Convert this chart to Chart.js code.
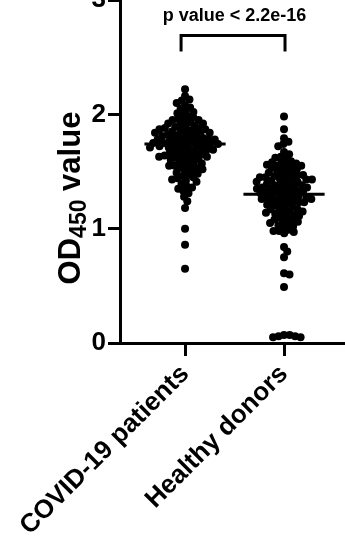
<!DOCTYPE html>
<html>
<head>
<meta charset="utf-8">
<script src="https://cdn.jsdelivr.net/npm/chart.js@4/dist/chart.umd.min.js"></script>
<style>
  html, body { margin: 0; padding: 0; background: #fff; }
  canvas { display: block; }
</style>
</head>
<body>
<canvas id="odChart" width="345" height="538"></canvas>
<script>
// donnees
const categories = ['COVID-19 patients', 'Healthy donors'];
const yTicks = [0, 1, 2, 3];
const covidValues = [
  2.22, 2.16, 2.13, 2.12, 2.10,
  2.08, 2.06, 2.05, 2.03, 2.02, 2.01,
  1.99, 1.98, 1.97, 1.96, 1.95, 1.94, 1.93, 1.92, 1.91, 1.90, 1.95, 1.92,
  1.89, 1.88, 1.88, 1.87, 1.86, 1.86, 1.85, 1.84, 1.84, 1.83, 1.83, 1.82, 1.82, 1.81, 1.81, 1.80, 1.80, 1.85, 1.87, 1.89,
  1.79, 1.79, 1.78, 1.78, 1.77, 1.77, 1.76, 1.76, 1.75, 1.75, 1.74, 1.74, 1.73, 1.73, 1.72, 1.72, 1.71, 1.71, 1.70, 1.70, 1.76, 1.78, 1.74, 1.72,
  1.69, 1.69, 1.68, 1.67, 1.66, 1.66, 1.65, 1.64, 1.63, 1.63, 1.62, 1.61, 1.61, 1.60, 1.68, 1.65, 1.62, 1.64,
  1.59, 1.58, 1.57, 1.56, 1.55, 1.55, 1.54, 1.53, 1.52, 1.51, 1.50, 1.57, 1.53,
  1.49, 1.48, 1.46, 1.45, 1.44, 1.43, 1.42, 1.41, 1.47,
  1.39, 1.37, 1.36, 1.35, 1.33, 1.31,
  1.28, 1.24,
  1.18, 1.00, 0.86, 0.65
];
const healthyValues = [
  1.98, 1.87, 1.79, 1.76, 1.74, 1.72,
  1.67, 1.65, 1.63, 1.62, 1.61,
  1.59, 1.58, 1.57, 1.56, 1.56, 1.55, 1.54, 1.53, 1.53, 1.52, 1.51, 1.50, 1.55, 1.58,
  1.49, 1.49, 1.48, 1.47, 1.47, 1.46, 1.45, 1.45, 1.44, 1.43, 1.43, 1.42, 1.41, 1.41, 1.40, 1.46, 1.44, 1.42,
  1.39, 1.39, 1.38, 1.37, 1.37, 1.36, 1.35, 1.35, 1.34, 1.33, 1.33, 1.32, 1.31, 1.31, 1.30, 1.36, 1.34, 1.32, 1.38,
  1.29, 1.29, 1.28, 1.27, 1.27, 1.26, 1.25, 1.25, 1.24, 1.23, 1.23, 1.22, 1.21, 1.21, 1.20, 1.26, 1.24, 1.28,
  1.19, 1.18, 1.17, 1.17, 1.16, 1.15, 1.14, 1.13, 1.12, 1.11, 1.10, 1.15, 1.13,
  1.09, 1.08, 1.07, 1.06, 1.05, 1.04, 1.03, 1.02, 1.01, 1.06,
  0.99, 0.98, 0.98, 0.97, 0.96,
  0.84, 0.80, 0.75, 0.61, 0.60, 0.49,
  0.07, 0.06, 0.05, 0.06, 0.07, 0.05
];
const groupMeans = [1.74, 1.30];
const pValueLabel = 'p value < 2.2e-16';
const bracketLevels = [2.55, 2.69];

const FONT = "'Liberation Sans', Arial, sans-serif";
const dotRadius = 4;
const swarmGap = 5.6;
const meanHalfWidth = 0.41;

// disposition en essaim (beeswarm) calculée en pixels
function swarm(values, centre, xScale, yScale) {
  const pxPerUnit = xScale.getPixelForValue(1) - xScale.getPixelForValue(0);
  const pts = values.map(v => ({ v: v, py: yScale.getPixelForValue(v), px: 0 }))
    .sort((a, b) => b.v - a.v);
  const placed = [];
  pts.forEach(p => {
    const near = placed.filter(q => Math.abs(q.py - p.py) < swarmGap);
    const cands = [0];
    near.forEach(q => {
      const dx = Math.sqrt(swarmGap * swarmGap - (q.py - p.py) ** 2);
      cands.push(q.px + dx, q.px - dx);
    });
    cands.sort((a, b) => Math.abs(a) - Math.abs(b));
    p.px = cands.find(c => near.every(q => (q.px - c) ** 2 + (q.py - p.py) ** 2 >= swarmGap * swarmGap - 0.01));
    placed.push(p);
  });
  return placed.map(p => ({ x: centre + p.px / pxPerUnit, y: p.v }));
}

// titre Y avec indice + texte de la p-value
const annotations = {
  id: 'annotations',
  afterDraw(chart) {
    const { ctx, scales } = chart;
    ctx.save();
    ctx.fillStyle = '#000';
    // texte p value
    ctx.font = 'bold 18px ' + FONT;
    ctx.textAlign = 'center';
    ctx.textBaseline = 'alphabetic';
    const midX = (scales.x.getPixelForValue(0) + scales.x.getPixelForValue(1)) / 2;
    ctx.fillText(pValueLabel, midX, scales.y.getPixelForValue(2.82));

    // titre de l'axe Y : OD450 value
    ctx.translate(80, 198);
    ctx.rotate(-Math.PI / 2);
    const big = 'bold 31px ' + FONT;
    const small = 'bold 23px ' + FONT;
    ctx.font = big;
    const wOD = ctx.measureText('OD').width;
    const wRest = ctx.measureText(' value').width;
    ctx.font = small;
    const wSub = ctx.measureText('450').width;
    let x = -(wOD + wSub + wRest) / 2;
    ctx.textAlign = 'left';
    ctx.font = big;
    ctx.fillText('OD', x, 0);
    x += wOD;
    ctx.font = small;
    ctx.fillText('450', x, 6);
    x += wSub;
    ctx.font = big;
    ctx.fillText(' value', x, 0);
    ctx.restore();
  }
};

document.addEventListener('DOMContentLoaded', function () {
  const ctx = document.getElementById('odChart');
  const dotStyle = {
    backgroundColor: '#000',
    borderWidth: 0,
    pointRadius: dotRadius,
    pointHoverRadius: dotRadius,
    showLine: false,
    order: 2
  };
  const lineStyle = {
    borderColor: '#000',
    borderWidth: 3,
    pointRadius: 0,
    showLine: true,
    tension: 0,
    borderJoinStyle: 'miter',
    order: 0
  };

  const chart = new Chart(ctx.getContext('2d'), {
    type: 'scatter',
    data: {
      datasets: [
        { label: categories[0], data: covidValues.map(v => ({ x: 0, y: v })), ...dotStyle },
        { label: categories[1], data: healthyValues.map(v => ({ x: 1, y: v })), ...dotStyle },
        ...groupMeans.map((m, i) => ({
          label: 'mean ' + categories[i],
          data: [{ x: i - meanHalfWidth, y: m }, { x: i + meanHalfWidth, y: m }],
          ...lineStyle
        })),
        {
          label: 'bracket',
          data: [
            { x: -0.04, y: bracketLevels[0] }, { x: -0.04, y: bracketLevels[1] },
            { x: 1.01, y: bracketLevels[1] }, { x: 1.01, y: bracketLevels[0] }
          ],
          ...lineStyle
        }
      ]
    },
    options: {
      responsive: false,
      animation: false,
      layout: { padding: 0, autoPadding: false },
      plugins: {
        legend: { display: false },
        tooltip: { enabled: false }
      },
      scales: {
        x: {
          type: 'linear',
          min: -0.657,
          max: 1.616,
          afterBuildTicks: s => { s.ticks = categories.map((c, i) => ({ value: i })); },
          afterFit: s => { s.height = 195; s.paddingLeft = 0; s.paddingRight = 0; },
          ticks: {
            callback: v => categories[v],
            autoSkip: false,
            minRotation: 45,
            maxRotation: 45,
            padding: 3,
            color: '#000',
            font: { family: FONT, size: 26, weight: 'bold' }
          },
          grid: {
            drawOnChartArea: false,
            drawTicks: true,
            tickLength: 13,
            tickWidth: 3,
            tickColor: '#000',
            color: '#000'
          },
          border: { display: true, color: '#000', width: 3 }
        },
        y: {
          min: 0,
          max: 3,
          afterBuildTicks: s => { s.ticks = yTicks.map(v => ({ value: v })); },
          afterFit: s => { s.width = 120; s.paddingTop = 0; s.paddingBottom = 0; },
          ticks: {
            padding: 2,
            color: '#000',
            font: { family: FONT, size: 26, weight: 'bold' }
          },
          grid: {
            drawOnChartArea: false,
            drawTicks: true,
            tickLength: 12,
            tickWidth: 3,
            tickColor: '#000',
            color: '#000'
          },
          border: { display: true, color: '#000', width: 3 }
        }
      }
    },
    plugins: [annotations]
  });

  // placer les points en essaim une fois les échelles connues
  chart.data.datasets[0].data = swarm(covidValues, 0, chart.scales.x, chart.scales.y);
  chart.data.datasets[1].data = swarm(healthyValues, 1, chart.scales.x, chart.scales.y);
  chart.update('none');
});
</script>
</body>
</html>
